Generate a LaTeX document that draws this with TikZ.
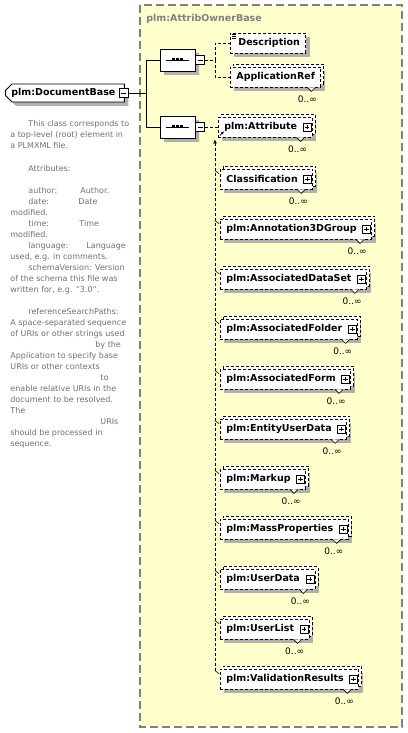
\documentclass[tikz,border=0pt]{standalone}
\usepackage{fontspec}
\setmainfont{DejaVu Sans}
\usetikzlibrary{arrows.meta, shapes.misc, shadows, positioning}
\definecolor{ownerfill}{HTML}{FFFFCC}
\definecolor{ownerline}{HTML}{808080}
\definecolor{notegray}{HTML}{707070}
\definecolor{shadegray}{HTML}{B0B0B0}

\tikzset{
  dashes/.style={dash pattern=on 3pt off 2pt},
  boxshadow/.style={drop shadow={shadow xshift=4pt, shadow yshift=-4pt, fill=shadegray, opacity=1}},
  elembox/.style={draw, dashes, fill=white, anchor=west, minimum height=20, inner xsep=6, inner ysep=0,
    font=\fontsize{9.5}{11}\bfseries, boxshadow},
  multibox/.style={elembox, copy shadow={shadow xshift=3pt, shadow yshift=3pt, draw, dashes, fill=white}},
  docbox/.style={chamfered rectangle, chamfered rectangle corners={north west, south west},
    chamfered rectangle xsep=3pt, draw, solid, fill=white, anchor=west, minimum height=18,
    inner xsep=3, inner ysep=0, font=\fontsize{9.5}{11}\bfseries, boxshadow},
  seqbox/.style={chamfered rectangle, chamfered rectangle xsep=6pt, draw, solid, fill=white,
    minimum width=35, minimum height=22, inner sep=0, boxshadow,
    path picture={
      \draw[black, line width=0.8pt] ([xshift=6pt]path picture bounding box.west) -- ([xshift=-6pt]path picture bounding box.east);
      \foreach \d in {-5.5,-1.5,2.5} \fill[black] ([shift={(\d pt,-1.5pt)}]path picture bounding box.center) rectangle +(3pt,3pt);
    }},
  plusbox/.style={draw, solid, fill=white, minimum size=8, inner sep=0, line width=0.6pt,
    path picture={\draw[black, line width=0.6pt] ([xshift=1.6pt]path picture bounding box.west) -- ([xshift=-1.6pt]path picture bounding box.east)
      ([shift={(0pt,-1.6pt)}]path picture bounding box.north) -- ([shift={(0pt,1.6pt)}]path picture bounding box.south);}},
  minusbox/.style={draw, solid, fill=white, minimum size=9, inner sep=0, line width=0.6pt,
    path picture={\draw[black, line width=0.6pt] ([xshift=1.8pt]path picture bounding box.west) -- ([xshift=-1.8pt]path picture bounding box.east);}},
  notch/.style={draw, solid, fill=white, line width=0.6pt},
  occurs/.style={anchor=north east, inner sep=0, font=\fontsize{9}{10}\selectfont},
  note/.style={anchor=base west, inner sep=0, text=notegray, font=\fontsize{8}{10}\selectfont}
}

\begin{document}
\begin{tikzpicture}[x=1pt, y=-1pt, line width=0.8pt]
\useasboundingbox (0,0) rectangle (407,733);

% complex type frame
\draw[ownerline, dash pattern=on 8pt off 4pt, line width=1.2pt, fill=ownerfill] (140,5) rectangle (402,727);
\node[anchor=base west, inner sep=0, text=ownerline, font=\fontsize{9.5}{11}\bfseries] (ownerTitle) at (146,22) {plm:AttribOwnerBase};

% root element and its note
\node[docbox] (doc) at (5,93) {plm:DocumentBase\kern3pt};
\node[minusbox] (doc-minus) at ([xshift=-1]doc.east) {};
\foreach \ty/\tx/\notetext [count=\i] in {
  127/28/{This class corresponds to}, 138/10/{a top-level (root) element in}, 149/10/{a PLMXML file.},
  171/28/{Attributes:},
  193/28/{author:}, 193/80/{Author.}, 204/28/{date:}, 204/78/{Date}, 215/10/{modified.},
  226/28/{time:}, 226/79/{Time}, 237/10/{modified.},
  248/28/{language:}, 248/86/{Language}, 259/10/{used, e.g. in comments.},
  270/28/{schemaVersion: Version}, 281/10/{of the schema this file was}, 292/10/{written for, e.g. "3.0".},
  314/28/{referenceSearchPaths:}, 325/10/{A space-separated sequence}, 336/10/{of URIs or other strings used},
  347/95/{by the}, 358/10/{Application to specify base}, 369/10/{URIs or other contexts},
  380/100/{to}, 391/10/{enable relative URIs in the}, 402/10/{document to be resolved.},
  413/10/{The}, 424/100/{URIs}, 435/10/{should be processed in}, 446/10/{sequence.}}
  \node[note] (note\i) at (\tx,\ty) {\notetext};

% sequences
\node[seqbox] (seq1) at (177.5,60) {};
\node[minusbox, right=0pt of seq1] (seq1-minus) {};
\node[seqbox] (seq2) at (177.5,127) {};
\node[minusbox, right=0pt of seq2] (seq2-minus) {};
\coordinate (docJ) at (146,93);
\draw (doc-minus.east) -- (docJ) |- (seq1.west);
\draw (docJ) |- (seq2.west);

% first sequence
\node[elembox] (desc) at (230,43) {\kern2pt Description};
\foreach \k in {2,4,6}
  \draw[solid, line width=0.6pt] ([shift={(2,\k)}]desc.north west) -- ++(4,0);
\node[multibox] (appref) at (230,77) {ApplicationRef};
\draw[notch] ([shift={(-14,0)}]appref.south east) -- ++(4,4) -- ++(4,-4);
\node[occurs] (appref-occ) at ([shift={(-4,8)}]appref.south east) {0..∞};
\coordinate (seq1J) at (215,60);
\draw[dashes] (seq1-minus.east) -- (seq1J) |- (desc.west);
\draw[dashes] (seq1J) |- (appref.west);

% second sequence: substitution group head
\node[multibox] (att) at (218,127) {plm:Attribute\kern9pt};
\node[plusbox] (att-plus) at ([xshift=-5.5]att.east) {};
\draw[notch] ([shift={(-16,0)}]att.south east) -- ++(4,4) -- ++(4,-4);
\node[occurs] (att-occ) at ([shift={(-5,8)}]att.south east) {0..∞};
\draw[solid, line width=0.6pt, -{Latex[length=3pt,width=3pt]}] ([shift={(2,-2)}]att.south west) -- ++(4,-4);
\draw[dashes] (seq2-minus.east) -- (att.west);

% substitution group members
\foreach \nm/\lbl [count=\i from 0] in {cls/Classification, annot/plm:Annotation3DGroup,
    dataset/plm:AssociatedDataSet, folder/plm:AssociatedFolder, form/plm:AssociatedForm,
    eud/plm:EntityUserData, markup/plm:Markup, mass/plm:MassProperties, udata/plm:UserData,
    ulist/plm:UserList, valres/plm:ValidationResults} {
  \node[multibox] (\nm) at (220,179+50*\i) {\lbl\kern9pt};
  \node[plusbox] (\nm-plus) at ([xshift=-5.5]\nm.east) {};
  \draw[notch] ([shift={(-16,0)}]\nm.south east) -- ++(4,4) -- ++(4,-4);
  \node[occurs] (\nm-occ) at ([shift={(-5,8)}]\nm.south east) {0..∞};
  \draw[solid, line width=0.6pt] ([shift={(-5,2)}]\nm.north west) -- ([shift={(-1,5)}]\nm.north west);
}
\coordinate (subTop) at ([shift={(-3,2)}]att.south west);
\coordinate (subBot) at ([shift={(-5,2)}]valres.north west);
\draw[dashes, -{Latex[length=4pt,width=4pt]}] (subBot) -- (subTop);
\end{tikzpicture}
\end{document}
